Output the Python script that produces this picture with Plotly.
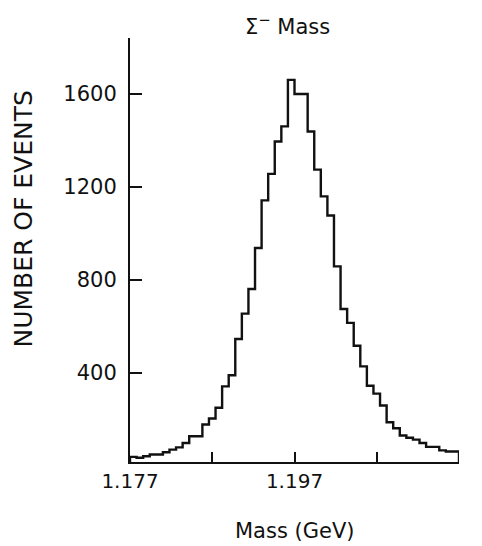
import plotly.graph_objects as go

# Histogram of Sigma- mass: 50 bins of 0.8 MeV from 1.177 to 1.217 GeV
bin_start = 1.177
bin_width = 0.0008
counts = [39, 35, 42, 49, 49, 59, 70, 80, 99, 128,
          128, 178, 204, 250, 342, 390, 546, 655, 761, 937,
          1142, 1256, 1395, 1460, 1660, 1599, 1599, 1438, 1274, 1159,
          1077, 858, 675, 615, 517, 428, 345, 311, 260, 188,
          162, 131, 121, 113, 99, 82, 82, 67, 62, 62]

x_tick_vals = [1.177, 1.197, 1.217]
x_tick_text = ["1.177", "1.197", "1.217"]
x_minor_vals = [1.187, 1.207]
y_tick_vals = [400, 800, 1200, 1600]
y_tick_text = ["400", "800", "1200", "1600"]

title_text = "Σ<sup>−</sup> Mass"
x_title = "Mass (GeV)"
y_title = "NUMBER OF EVENTS"

y_min, y_max = 17, 1840
x_min, x_max = 1.177, 1.217

n = len(counts)
edges = [bin_start + bin_width * k for k in range(n + 1)]
xs = [edges[0]] + edges[:n] + [edges[n], edges[n]]
ys = [y_min] + counts + [counts[-1], y_min]

FONT = "DejaVu Sans"
INK = "#111111"

fig = go.Figure()
fig.add_trace(go.Scatter(
    x=xs, y=ys, mode="lines", line=dict(shape="hv", color=INK, width=2.4),
    hoverinfo="skip", showlegend=False,
))

# page body has an 8px default margin, so the figure is sized/placed to compensate
fig.update_layout(
    width=474, height=538,
    margin=dict(l=122, r=23, t=30, b=84),
    paper_bgcolor="white", plot_bgcolor="white",
    showlegend=False,
    font=dict(family=FONT, color=INK),
)
fig.update_xaxes(
    range=[x_min, x_max], showgrid=False, zeroline=False,
    showline=True, linecolor=INK, linewidth=2,
    ticks="inside", ticklen=10, tickwidth=1.5, tickcolor=INK,
    tickvals=x_tick_vals, ticktext=x_tick_text,
    minor=dict(tickvals=x_minor_vals, ticks="inside", ticklen=10,
               tickwidth=1.5, tickcolor=INK, showgrid=False),
    tickfont=dict(size=20, family=FONT, color=INK),
    ticklabelstandoff=0,
)
fig.update_yaxes(
    range=[y_min, y_max], showgrid=False, zeroline=False,
    showline=True, linecolor=INK, linewidth=2,
    ticks="inside", ticklen=12, tickwidth=1.5, tickcolor=INK,
    tickvals=y_tick_vals, ticktext=y_tick_text,
    tickfont=dict(size=21, family=FONT, color=INK),
    ticklabelstandoff=7,
)

fig.add_annotation(
    text=title_text, xref="paper", yref="paper", x=0.480, y=1.0307,
    xanchor="center", yanchor="middle", showarrow=False,
    font=dict(size=21, family=FONT, color=INK),
)
fig.add_annotation(
    text=x_title, xref="paper", yref="paper", x=0.5015, y=-0.1627,
    xanchor="center", yanchor="middle", showarrow=False,
    font=dict(size=21, family=FONT, color=INK),
)
fig.add_annotation(
    text=y_title, xref="paper", yref="paper", x=-0.325, y=0.572,
    xanchor="center", yanchor="middle", showarrow=False, textangle=-90,
    font=dict(size=25, family=FONT, color=INK),
)

fig.write_html("out.html")
